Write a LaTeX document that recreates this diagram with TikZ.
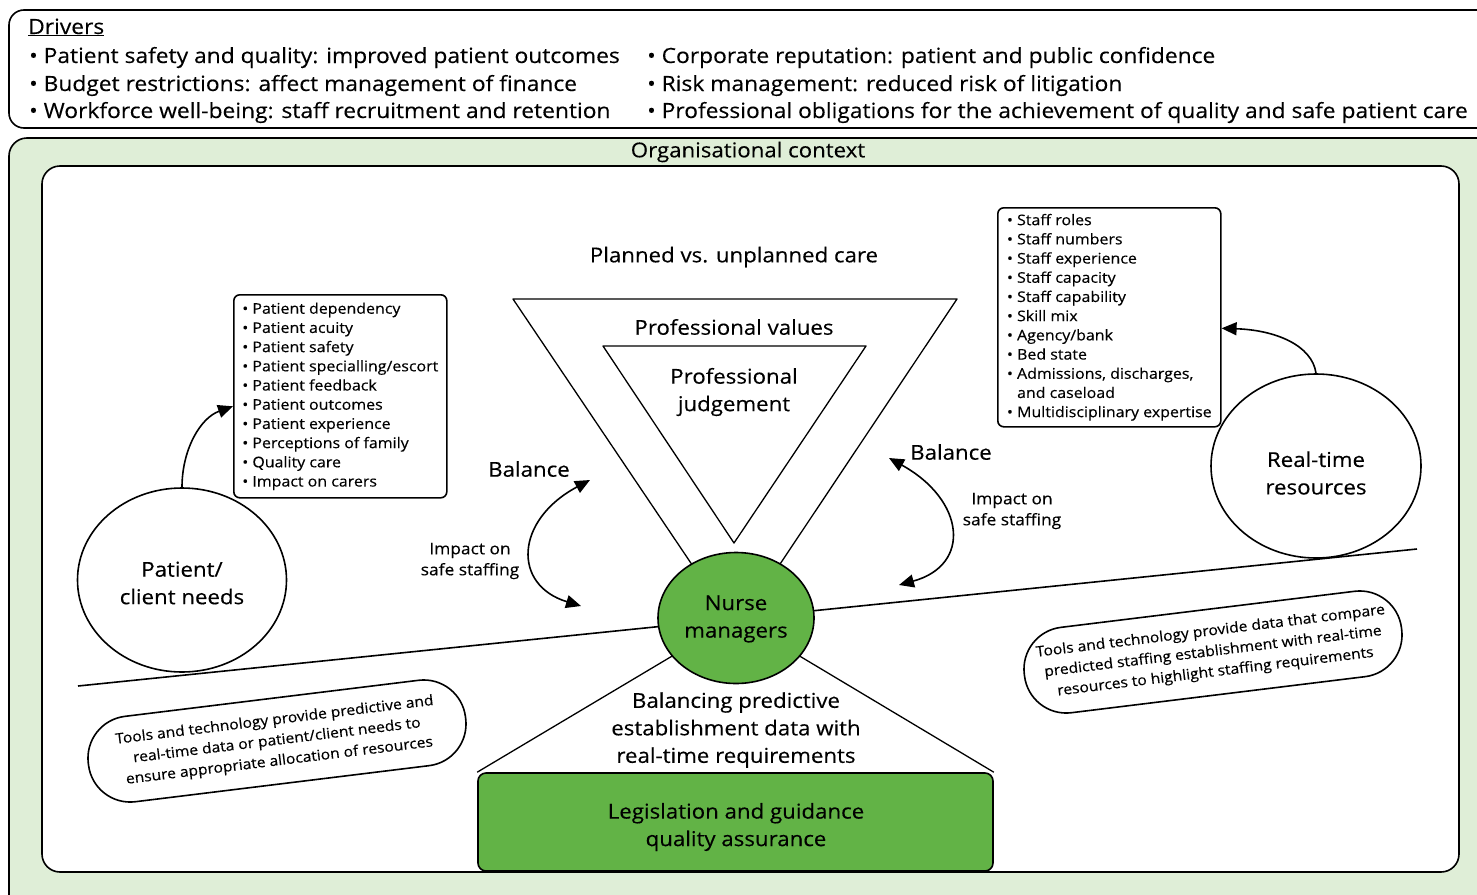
\documentclass[tikz,border=0pt]{standalone}
\usepackage{fontspec}
\setmainfont{Open Sans}[FakeStretch=1.085,FakeBold=0.3]
\usetikzlibrary{arrows.meta,shapes.geometric}
\definecolor{lgreen}{HTML}{DFEED7}
\definecolor{mgreen}{HTML}{62B346}
\begin{document}
\begin{tikzpicture}[x=1pt,y=-1pt, line join=round,
  bord/.style={draw=black, line width=1.6pt},
  thinline/.style={draw=black, line width=1.3pt},
  big/.style={font=\fontsize{20.5}{27.5}\selectfont},
  drvfont/.style={font=\fontsize{21}{27.5}\selectfont},
  mid/.style={font=\fontsize{16}{21}\selectfont},
  small/.style={font=\fontsize{14.7}{19.2}\selectfont},
  pilltxt/.style={font=\fontsize{14.4}{20.5}\selectfont},
  arr/.style={line width=1.6pt, -{Triangle[length=15pt,width=13pt]}},
  darr/.style={line width=1.6pt, {Triangle[length=15pt,width=13pt]}-{Triangle[length=15pt,width=13pt]}},
  listbox/.style={draw=black, line width=1.6pt, rounded corners=6pt, small, align=left, inner xsep=3.5pt, inner ysep=6pt, anchor=north west},
  circ/.style={ellipse, draw=black, line width=1.6pt, fill=white, inner sep=0pt},
  lbl/.style={big, align=center},
  pill/.style={draw=black, line width=1.6pt, fill=white, rounded corners=42pt, minimum width=380pt, minimum height=86pt, rotate=7, pilltxt, align=center},
  drv/.style={drvfont, anchor=base west, inner sep=0pt},
]
\useasboundingbox (0,0) rectangle (1477,894);

% Drivers box
\draw[bord, rounded corners=15pt] (9,10) rectangle (1500,128);
\node[drv] (dhead) at (28,34) {\underline{Drivers}};
\node[drv] (d1) at (29,63) {\textbullet\ Patient safety and quality: improved patient outcomes};
\node[drv] (d2) at (29,91) {\textbullet\ Budget restrictions: affect management of finance};
\node[drv] (d3) at (29,118) {\textbullet\ Workforce well-being: staff recruitment and retention};
\node[drv] (d4) at (647,63) {\textbullet\ Corporate reputation: patient and public confidence};
\node[drv] (d5) at (647,91) {\textbullet\ Risk management: reduced risk of litigation};
\node[drv] (d6) at (647,118) {\textbullet\ Professional obligations for the achievement of quality and safe patient care};

% Organisational context
\draw[bord, fill=lgreen, rounded corners=18pt] (9,138) rectangle (1500,930);
\node[big] (orgc) at (748,152) {Organisational context};
\draw[bord, fill=white, rounded corners=18pt] (42,166) rectangle (1459,872);

% seesaw line
\coordinate (sL) at (78,686);
\coordinate (sR) at (1417,549);
\draw[bord] (sL) -- (sR);

% triangles
\coordinate (t1) at (513,299);
\coordinate (t2) at (957,299);
\coordinate (tA) at (736,630);
\draw[thinline] (t1) -- (t2) -- (tA) -- cycle;
\coordinate (u1) at (603,346);
\coordinate (u2) at (866,346);
\coordinate (uA) at (734,543);
\draw[thinline] (u1) -- (u2) -- (uA) -- cycle;

\node[big] (planned) at (734,257) {Planned vs. unplanned care};
\node[big] (pvalues) at (734,327) {Professional values};
\node[lbl] (pjudge) at (734,392) {Professional\\judgement};

% bottom part
\node[draw=black, line width=1.6pt, fill=mgreen, rounded corners=8pt, minimum width=515pt, minimum height=98pt] (leg) at (735.5,822) {};
\node[lbl] (legtxt) at (736,827) {Legislation and guidance\\quality assurance};
\coordinate (nmc) at (736,618);
\draw[thinline] (leg.north west) -- (nmc) -- (leg.north east);
\node[lbl] (balpred) at (736,730) {Balancing predictive\\establishment data with\\real-time requirements};

% circles
\node[circ, fill=mgreen, minimum width=156pt, minimum height=131pt] (nm) at (736,618) {};
\node[lbl] (nmtxt) at (736,619) {Nurse\\managers};
\node[circ, minimum width=209pt, minimum height=184pt] (pneeds) at (182,580) {};
\node[lbl] (pntxt) at (182,583) {Patient/\\client needs};
\node[circ, minimum width=210pt, minimum height=184pt] (rtres) at (1316,466) {};
\node[lbl] (rttxt) at (1316,473) {Real-time\\resources};

% lists
\node[listbox, minimum width=213pt, minimum height=203pt] (plist) at (233,294) {%
\textbullet\ Patient dependency\\
\textbullet\ Patient acuity\\
\textbullet\ Patient safety\\
\textbullet\ Patient specialling/escort\\
\textbullet\ Patient feedback\\
\textbullet\ Patient outcomes\\
\textbullet\ Patient experience\\
\textbullet\ Perceptions of family\\
\textbullet\ Quality care\\
\textbullet\ Impact on carers};
\node[listbox, minimum width=223pt, minimum height=219pt] (rlist) at (997,207) {%
\textbullet\ Staff roles\\
\textbullet\ Staff numbers\\
\textbullet\ Staff experience\\
\textbullet\ Staff capacity\\
\textbullet\ Staff capability\\
\textbullet\ Skill mix\\
\textbullet\ Agency/bank\\
\textbullet\ Bed state\\
\textbullet\ Admissions, discharges,\\
\phantom{\textbullet\ }and caseload\\
\textbullet\ Multidisciplinary expertise};

% arrows to lists
\draw[arr] (pneeds.north) .. controls (182,450) and (200,418) .. ([yshift=-10pt]plist.west);
\draw[arr] (rtres.north) .. controls (1312,345) and (1275,330) .. ([yshift=-11pt]rlist.east);

% balance arrows
\coordinate (bl1) at (590,480);
\coordinate (bl2) at (581,606);
\draw[darr] (bl1) .. controls (515,520) and (512,585) .. (bl2);
\node[big] (balL) at (529,469) {Balance};
\node[mid, align=center] (impL) at (470,561) {Impact on\\safe staffing};

\coordinate (br1) at (889,458);
\coordinate (br2) at (899,585);
\draw[darr] (br1) .. controls (965,500) and (972,565) .. (br2);
\node[big] (balR) at (951,452) {Balance};
\node[mid, align=center] (impR) at (1012,511) {Impact on\\safe staffing};

% tools pills
\node[pill] (toolL) at (277,741) {Tools and technology provide predictive and\\real-time data or patient/client needs to\\ensure appropriate allocation of resources};
\node[pill] (toolR) at (1213,652) {Tools and technology provide data that compare\\predicted staffing establishment with real-time\\resources to highlight staffing requirements};
\end{tikzpicture}
\end{document}
